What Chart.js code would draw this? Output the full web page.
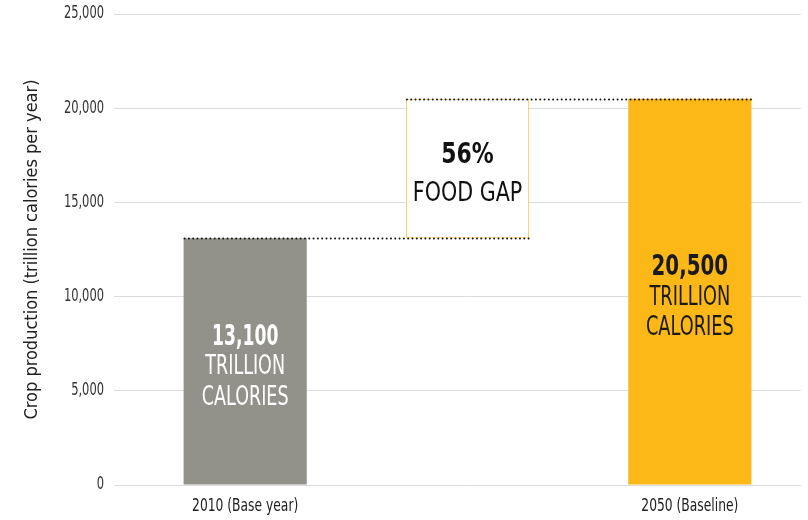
<!DOCTYPE html>
<html>
<head>
<meta charset="utf-8">
<script src="https://cdn.jsdelivr.net/npm/chart.js@4"></script>
<style>
  html, body { margin: 0; padding: 0; background: #fff; }
  #wrap { width: 808px; height: 520px; }
</style>
</head>
<body>
<div id="wrap"><canvas id="chart" width="808" height="520"></canvas></div>
<script>
// chart data
const categories = ["2010 (Base year)", "", "2050 (Baseline)"];
const baseValue = 13100;
const baselineValue = 20500;
const barValues = [baseValue, [baseValue, baselineValue], baselineValue];
const barColors = ["#93928a", "#ffffff", "#fbb817"];
const yTicks = [0, 5000, 10000, 15000, 20000, 25000];

// text inside the bars: bold first line, then normal lines
const barTexts = [
  ["13,100", "TRILLION", "CALORIES"],
  ["56%", "FOOD GAP"],
  ["20,500", "TRILLION", "CALORIES"]
];
const textColors = ["#ffffff", "#111111", "#1a1a1a"];
const lineSteps = [30.5, 39, 30];
// horizontal squeeze per bar: [bold line, normal lines]
const squeezeBold = [0.66, 0.84, 0.76];
const squeezeNormal = [0.75, 0.85, 0.76];
const normalSize = [26, 27, 26];

const FONT = '"DejaVu Sans Condensed", "DejaVu Sans", sans-serif';

// draw text squeezed horizontally (condensed look)
function squeezed(ctx, text, x, y, sx, align) {
  ctx.save();
  ctx.translate(x, y);
  ctx.scale(sx, 1);
  ctx.textAlign = align;
  ctx.fillText(text, 0, 0);
  ctx.restore();
}

const overlay = {
  id: "overlay",
  afterDatasetsDraw(chart) {
    const ctx = chart.ctx;
    const y = chart.scales.y;
    const x = chart.scales.x;
    const bars = chart.getDatasetMeta(0).data;
    const half = i => bars[i].width / 2;

    // dotted guide lines
    ctx.save();
    ctx.strokeStyle = "#111";
    ctx.lineWidth = 2;
    ctx.lineCap = "round";
    ctx.setLineDash([0, 4.3]);
    ctx.beginPath();
    const y1 = Math.round(y.getPixelForValue(baseValue)) + 0.5;
    ctx.moveTo(bars[0].x - half(0) + 1, y1);
    ctx.lineTo(bars[1].x + half(1), y1);
    const y2 = Math.round(y.getPixelForValue(baselineValue)) + 0.5;
    ctx.moveTo(bars[1].x - half(1) + 1, y2);
    ctx.lineTo(bars[2].x + half(2), y2);
    ctx.stroke();
    ctx.restore();

    // bar labels
    ctx.save();
    ctx.textBaseline = "middle";
    barTexts.forEach((lines, i) => {
      const v = barValues[i];
      const lo = Array.isArray(v) ? v[0] : 0;
      const hi = Array.isArray(v) ? v[1] : v;
      const mid = y.getPixelForValue((lo + hi) / 2) + 6;
      const step = lineSteps[i];
      const top = mid - (lines.length - 1) * step / 2;
      ctx.fillStyle = textColors[i];
      lines.forEach((t, k) => {
        ctx.font = (k === 0 ? "bold 29px " : normalSize[i] + "px ") + FONT;
        const sx = k === 0 ? squeezeBold[i] : squeezeNormal[i];
        squeezed(ctx, t, bars[i].x, top + k * step, sx, "center");
      });
    });
    ctx.restore();

    // tick labels
    ctx.save();
    ctx.textBaseline = "middle";
    ctx.fillStyle = "#333";
    ctx.font = "17px " + FONT;
    yTicks.forEach(v => {
      squeezed(ctx, v.toLocaleString("en-US"), y.right - 30, y.getPixelForValue(v), 0.75, "right");
    });
    ctx.fillStyle = "#222";
    ctx.font = "18px " + FONT;
    categories.forEach((c, i) => {
      if (c) squeezed(ctx, c, x.getPixelForValue(i), 506, 0.76, "center");
    });
    ctx.restore();
  }
};

new Chart(document.getElementById("chart"), {
  type: "bar",
  data: {
    labels: categories,
    datasets: [{
      data: barValues,
      backgroundColor: barColors,
      borderColor: ["#93928a", "#fcc94a", "#fbb817"],
      borderWidth: [0, 1, 0],
      borderSkipped: false,
      categoryPercentage: 1,
      barPercentage: 0.554
    }]
  },
  options: {
    responsive: false,
    animation: false,
    layout: { padding: { top: 14, right: 7, bottom: 0, left: 0 } },
    plugins: { legend: { display: false }, tooltip: { enabled: false } },
    scales: {
      x: {
        grid: { display: false },
        border: { display: false },
        ticks: { display: false },
        afterFit: s => { s.height = 35; }
      },
      y: {
        min: 0,
        max: 25000,
        afterBuildTicks: s => { s.ticks = yTicks.map(v => ({ value: v })); },
        grid: { color: "#dcdcdc", tickLength: 20, tickColor: "#dcdcdc" },
        border: { display: false },
        ticks: { display: false },
        title: {
          display: true,
          text: "Crop production (trillion calories per year)",
          color: "#222",
          font: { family: FONT, size: 18 },
          padding: { top: 22, bottom: 0 }
        },
        afterFit: s => { s.width = 134; }
      }
    }
  },
  plugins: [overlay]
});
</script>
</body>
</html>
